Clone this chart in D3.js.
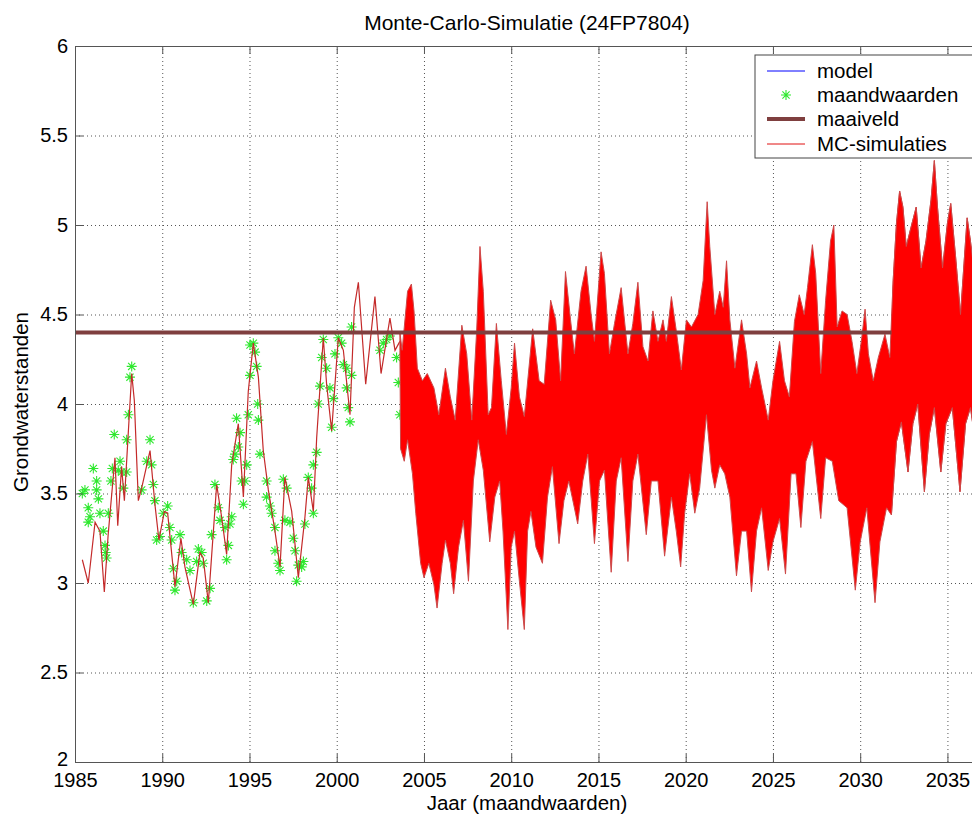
<!DOCTYPE html>
<html>
<head>
<meta charset="utf-8">
<script src="https://cdn.jsdelivr.net/npm/d3@7"></script>
<style>
  body { margin: 0; background: #fff; }
  svg { display: block; font-family: "Liberation Sans", Arial, sans-serif; }
</style>
</head>
<body>
<div class="chart"></div>
<script>
var width = 972, height = 814;
var plotLeft = 75, plotRight = 975, plotTop = 46, plotBottom = 762;

// ---- data ----
var xTicks = [1985, 1990, 1995, 2000, 2005, 2010, 2015, 2020, 2025, 2030, 2035];
var yTicks = [2, 2.5, 3, 3.5, 4, 4.5, 5, 5.5, 6];
var maaiveld = 4.4;

// maandwaarden (observed monthly values) [year, level]
var observed = [
  [1985.42,3.50],[1985.57,3.52],[1985.76,3.42],[1985.86,3.37],[1985.76,3.34],[1986.05,3.64],[1986.24,3.57],
  [1986.24,3.52],[1986.43,3.39],[1986.34,3.47],[1986.62,3.29],[1986.72,3.21],[1986.76,3.17],[1986.81,3.14],
  [1986.91,3.39],[1987.06,3.57],[1987.14,3.64],[1987.25,3.83],[1987.48,3.63],[1987.58,3.68],[1987.67,3.62],
  [1987.77,3.53],[1987.96,3.62],[1987.96,3.80],[1988.06,3.94],[1988.15,4.15],[1988.25,4.21],[1988.82,3.52],
  [1989.11,3.68],[1989.30,3.80],[1989.39,3.66],[1989.49,3.55],[1989.58,3.46],[1989.87,3.26],[1989.68,3.24],
  [1990.06,3.39],[1990.31,3.43],[1990.44,3.31],[1990.54,3.24],[1990.64,3.08],[1990.73,2.96],[1990.83,3.01],
  [1991.02,3.27],[1991.11,3.17],[1991.40,3.13],[1991.59,3.07],[1991.78,2.89],[1991.97,3.12],[1992.07,3.19],
  [1992.26,3.17],[1992.35,3.11],[1992.55,2.90],[1992.74,2.97],[1992.83,3.27],[1993.02,3.55],[1993.21,3.42],
  [1993.31,3.35],[1993.60,3.31],[1993.69,3.13],[1993.79,3.21],[1993.88,3.33],[1993.98,3.37],[1994.07,3.69],
  [1994.17,3.72],[1994.26,3.92],[1994.36,3.76],[1994.46,3.84],[1994.55,3.57],[1994.65,3.44],[1994.74,3.57],
  [1994.84,3.66],[1994.93,3.94],[1995.03,4.16],[1995.03,4.33],[1995.22,4.34],[1995.32,4.29],[1995.41,4.21],
  [1995.47,4.00],[1995.51,3.91],[1995.60,3.72],[1995.98,3.57],[1995.98,3.48],[1996.17,3.43],[1996.27,3.39],
  [1996.46,3.31],[1996.46,3.18],[1996.65,3.11],[1996.75,3.07],[1996.94,3.58],[1997.13,3.53],[1997.03,3.35],
  [1997.32,3.34],[1997.51,3.25],[1997.61,3.18],[1997.70,3.01],[1997.80,3.10],[1997.99,3.09],[1998.09,3.12],
  [1998.18,3.33],[1998.37,3.59],[1998.56,3.53],[1998.66,3.39],[1998.66,3.66],[1998.85,3.73],[1998.94,4.00],
  [1999.04,4.10],[1999.14,4.26],[1999.23,4.36],[1999.42,4.20],[1999.61,4.09],[1999.71,3.87],[1999.80,4.03],
  [1999.90,4.28],[2000.09,4.37],[2000.28,4.34],[2000.38,4.22],[2000.57,4.20],[2000.57,4.09],[2000.66,3.98],
  [2000.76,3.90],[2000.85,4.16],[2000.85,4.43],[2002.48,4.30],[2002.67,4.34],[2002.86,4.36],[2003.05,4.38],
  [2003.43,4.26],[2003.53,4.12],[2003.62,3.94]
];

// simulated levels over the measured period (all runs coincide)
var simHistory = [
  [1985.42,3.13],[1985.76,3.00],[1986.15,3.34],[1986.43,3.29],[1986.68,2.95],[1986.90,3.27],[1987.29,3.70],
  [1987.45,3.32],[1987.67,3.65],[1987.83,3.46],[1988.06,3.85],[1988.25,4.17],[1988.40,4.02],[1988.63,3.46],
  [1988.82,3.53],[1989.30,3.74],[1989.58,3.44],[1989.81,3.24],[1990.12,3.40],[1990.31,3.39],[1990.73,2.98],
  [1991.07,3.25],[1991.30,3.09],[1991.78,2.88],[1992.16,3.17],[1992.35,3.14],[1992.64,2.89],[1993.12,3.55],
  [1993.40,3.37],[1993.69,3.16],[1993.98,3.66],[1994.36,3.89],[1994.65,3.48],[1994.93,4.07],[1995.22,4.34],
  [1995.51,4.15],[1995.79,3.74],[1996.08,3.52],[1996.46,3.29],[1996.75,3.09],[1997.03,3.59],[1997.42,3.40],
  [1997.80,3.03],[1998.18,3.37],[1998.37,3.59],[1998.66,3.40],[1998.85,3.81],[1999.23,4.37],[1999.42,4.11],
  [1999.71,3.85],[2000.09,4.37],[2000.38,4.30],[2000.76,3.94],[2001.01,4.54],[2001.24,4.68],[2001.66,4.11],
  [2002.19,4.60],[2002.54,4.17],[2003.05,4.48],[2003.34,4.30],[2003.62,4.35]
];

// upper and lower edge of the bundle of MC-simulaties
var mcUpper = [
  [2003.62,4.40],[2003.75,4.30],[2004.06,4.63],[2004.28,4.67],[2004.43,4.52],[2004.62,4.20],[2004.91,4.13],
  [2005.19,4.17],[2005.57,4.09],[2005.85,3.94],[2006.23,4.20],[2006.51,4.04],[2006.79,3.91],[2007.17,4.44],
  [2007.45,4.28],[2007.74,3.91],[2008.02,4.41],[2008.21,4.88],[2008.40,4.63],[2008.68,3.94],[2008.87,3.98],
  [2009.15,4.45],[2009.43,4.13],[2009.72,3.83],[2010.00,4.09],[2010.19,4.34],[2010.47,4.04],[2010.75,3.93],
  [2011.23,4.42],[2011.60,4.13],[2011.89,4.11],[2012.26,4.58],[2012.55,4.47],[2012.83,4.13],[2013.11,4.74],
  [2013.40,4.47],[2013.62,4.28],[2014.00,4.63],[2014.29,4.77],[2014.58,4.50],[2014.77,4.35],[2015.15,4.85],
  [2015.34,4.73],[2015.63,4.28],[2015.92,4.45],[2016.30,4.65],[2016.69,4.28],[2016.97,4.45],[2017.26,4.68],
  [2017.55,4.32],[2017.84,4.24],[2018.12,4.52],[2018.41,4.35],[2018.70,4.47],[2018.89,4.35],[2019.18,4.60],
  [2019.46,4.41],[2019.75,4.19],[2020.04,4.47],[2020.33,4.43],[2020.71,4.50],[2021.00,4.69],[2021.23,5.13],
  [2021.38,4.88],[2021.67,4.50],[2021.95,4.63],[2022.15,4.54],[2022.34,4.80],[2022.53,4.47],[2022.82,4.20],
  [2023.20,4.47],[2023.49,4.28],[2023.68,4.09],[2024.06,4.24],[2024.35,4.09],[2024.73,3.91],[2025.00,4.13],
  [2025.38,4.35],[2025.66,4.13],[2025.94,4.04],[2026.23,4.46],[2026.51,4.61],[2026.79,4.50],[2026.98,4.65],
  [2027.26,4.89],[2027.45,4.73],[2027.74,4.17],[2028.02,4.58],[2028.30,4.91],[2028.49,5.00],[2028.68,4.43],
  [2028.96,4.52],[2029.25,4.50],[2029.53,4.35],[2029.81,4.17],[2030.09,4.37],[2030.28,4.53],[2030.47,4.28],
  [2030.75,4.13],[2031.04,4.26],[2031.42,4.39],[2031.70,4.26],[2031.89,4.69],[2032.08,5.01],[2032.26,5.19],
  [2032.45,5.10],[2032.64,4.88],[2032.92,4.99],[2033.21,5.10],[2033.49,4.76],[2033.77,4.91],[2034.06,5.14],
  [2034.25,5.36],[2034.43,5.10],[2034.72,4.76],[2035.00,5.01],[2035.19,5.12],[2035.47,4.82],[2035.75,4.50],
  [2036.13,5.04],[2036.32,4.91],[2036.58,4.70]
];
var mcLower = [
  [2003.62,4.30],[2003.66,3.75],[2003.87,3.68],[2004.06,3.80],[2004.34,3.61],[2004.53,3.39],[2004.81,3.11],
  [2005.00,3.03],[2005.28,3.11],[2005.57,2.99],[2005.75,2.86],[2006.04,3.11],[2006.23,3.24],[2006.51,3.11],
  [2006.70,2.94],[2006.98,3.20],[2007.26,3.35],[2007.55,3.01],[2007.83,3.57],[2008.11,3.80],[2008.40,3.63],
  [2008.77,3.23],[2009.06,3.48],[2009.34,3.57],[2009.53,3.29],[2009.81,2.74],[2010.00,3.20],[2010.19,3.29],
  [2010.47,3.01],[2010.75,2.74],[2010.94,3.29],[2011.13,3.40],[2011.42,3.20],[2011.79,3.11],[2012.08,3.48],
  [2012.36,3.65],[2012.74,3.22],[2013.02,3.46],[2013.30,3.57],[2013.62,3.42],[2013.81,3.33],[2014.10,3.57],
  [2014.39,3.72],[2014.77,3.22],[2015.06,3.57],[2015.34,3.63],[2015.73,3.06],[2016.02,3.57],[2016.30,3.70],
  [2016.69,3.12],[2016.97,3.57],[2017.26,3.72],[2017.74,3.27],[2018.03,3.57],[2018.41,3.57],[2018.79,3.15],
  [2019.18,3.48],[2019.46,3.29],[2019.71,3.09],[2019.94,3.39],[2020.23,3.61],[2020.52,3.39],[2020.80,3.53],
  [2021.19,3.94],[2021.48,3.63],[2021.67,3.53],[2021.95,3.66],[2022.24,3.61],[2022.53,3.48],[2022.91,3.04],
  [2023.20,3.29],[2023.49,3.29],[2023.77,2.95],[2024.06,3.29],[2024.35,3.42],[2024.73,3.07],[2025.00,3.23],
  [2025.38,3.36],[2025.72,3.05],[2026.04,3.61],[2026.32,3.61],[2026.60,3.31],[2026.89,3.68],[2027.26,3.79],
  [2027.74,3.36],[2028.02,3.70],[2028.40,3.68],[2028.77,3.46],[2029.25,3.42],[2029.72,2.96],[2030.00,3.23],
  [2030.38,3.42],[2030.85,2.89],[2031.13,3.23],[2031.51,3.42],[2031.79,3.38],[2032.08,3.79],[2032.36,3.90],
  [2032.74,3.62],[2033.02,3.89],[2033.30,4.00],[2033.68,3.51],[2033.96,3.83],[2034.25,3.98],[2034.62,3.62],
  [2034.91,3.89],[2035.28,3.98],[2035.72,3.51],[2036.04,3.89],[2036.32,3.98],[2036.58,3.80]
];
var legendItems = ["model", "maandwaarden", "maaiveld", "MC-simulaties"];

// ---- scales ----
var x = d3.scaleLinear().domain([1985, 2036.58]).range([plotLeft, plotRight]);
var y = d3.scaleLinear().domain([2, 6]).range([plotBottom, plotTop]);

var svg = d3.select('.chart')
    .append('svg')
    .attr('width', width)
    .attr('height', height);

var defs = svg.append('defs');
defs.append('clipPath').attr('id', 'plot')
    .append('rect')
    .attr('x', plotLeft).attr('y', plotTop)
    .attr('width', plotRight - plotLeft).attr('height', plotBottom - plotTop);
defs.append('clipPath').attr('id', 'late')
    .append('rect')
    .attr('x', x(2031.8)).attr('y', plotTop)
    .attr('width', plotRight - x(2031.8)).attr('height', plotBottom - plotTop);

// grid (dotted)
svg.append('g')
    .attr('transform', `translate(0,${plotBottom})`)
    .call(d3.axisBottom(x).tickValues(xTicks.slice(1)).tickSize(-(plotBottom - plotTop)).tickFormat(''))
    .call(g => g.select('.domain').remove())
    .selectAll('line').attr('stroke', '#555').attr('stroke-dasharray', '1,3');
svg.append('g')
    .attr('transform', `translate(${plotLeft},0)`)
    .call(d3.axisLeft(y).tickValues(yTicks.slice(1, -1)).tickSize(-(plotRight - plotLeft)).tickFormat(''))
    .call(g => g.select('.domain').remove())
    .selectAll('line').attr('stroke', '#555').attr('stroke-dasharray', '1,3');

var plot = svg.append('g').attr('clip-path', 'url(#plot)');

// maandwaarden stars
var r = 5, k = 3.6;
function star(cx, cy) {
    return `M${cx - r},${cy}h${2 * r}M${cx},${cy - r}v${2 * r}` +
        `M${cx - k},${cy - k}l${2 * k},${2 * k}M${cx - k},${cy + k}l${2 * k},${-2 * k}`;
}
plot.append('g').selectAll('path')
    .data(observed)
    .enter()
    .append('path')
    .attr('d', d => star(x(d[0]), y(d[1])))
    .attr('stroke', '#2ee82e')
    .attr('stroke-width', 1.1)
    .attr('fill', 'none');

var line = d3.line().x(d => x(d[0])).y(d => y(d[1]));

plot.append('path')
    .attr('d', line(simHistory))
    .attr('fill', 'none')
    .attr('stroke', '#c42a2a')
    .attr('stroke-width', 1.2);

// bundle of simulations: upper edge forward, lower edge back
var band = mcUpper.concat(mcLower.slice().reverse());
function drawBand(g) {
    g.append('path')
        .attr('d', line(band) + 'Z')
        .attr('fill', '#ff0000')
        .attr('stroke', '#cc4a4a')
        .attr('stroke-width', 1)
        .attr('stroke-linejoin', 'round');
}
drawBand(plot);

plot.append('line')
    .attr('x1', x(1985)).attr('x2', x(2036.58))
    .attr('y1', y(maaiveld)).attr('y2', y(maaiveld))
    .attr('stroke', '#7f3f3f')
    .attr('stroke-width', 4);

drawBand(plot.append('g').attr('clip-path', 'url(#late)'));

// axes box with inward ticks
function styleAxis(g) {
    g.select('.domain').attr('stroke', '#555');
    g.selectAll('line').attr('stroke', '#555');
    g.selectAll('text').attr('font-size', 20).attr('fill', '#000')
        .attr('font-family', '"Liberation Sans", Arial, sans-serif');
}
svg.append('g')
    .attr('transform', `translate(0,${plotBottom})`)
    .call(d3.axisBottom(x).tickValues(xTicks).tickSize(-8).tickPadding(11)
        .tickFormat(d3.format('d')))
    .call(styleAxis);
svg.append('g')
    .attr('transform', `translate(0,${plotTop})`)
    .call(d3.axisTop(x).tickValues(xTicks).tickSize(-8).tickFormat(''))
    .call(styleAxis);
svg.append('g')
    .attr('transform', `translate(${plotLeft},0)`)
    .call(d3.axisLeft(y).tickValues(yTicks).tickSize(-8).tickPadding(7)
        .tickFormat(d => d3.format('~g')(d)))
    .call(styleAxis)
    .call(g => g.selectAll('text').filter(d => d === 2).attr('dy', '0.15em'));

// titles
svg.append('text')
    .attr('x', 527).attr('y', 30)
    .attr('text-anchor', 'middle')
    .attr('font-size', 21)
    .text('Monte-Carlo-Simulatie (24FP7804)');
svg.append('text')
    .attr('x', 527).attr('y', 810)
    .attr('text-anchor', 'middle')
    .attr('font-size', 20.5)
    .text('Jaar (maandwaarden)');
svg.append('text')
    .attr('transform', 'translate(28,402) rotate(-90)')
    .attr('text-anchor', 'middle')
    .attr('font-size', 20.5)
    .text('Grondwaterstanden');

// legend
var legend = svg.append('g');
legend.append('rect')
    .attr('x', 755).attr('y', 55)
    .attr('width', 220).attr('height', 103)
    .attr('fill', '#fff')
    .attr('stroke', '#444');
var rowY = [71, 95, 119, 144];
legend.selectAll('text')
    .data(legendItems)
    .enter()
    .append('text')
    .attr('x', 817)
    .attr('y', (d, i) => rowY[i])
    .attr('dy', '0.35em')
    .attr('font-size', 20.5)
    .text(d => d);
legend.append('line').attr('x1', 767).attr('x2', 805).attr('y1', rowY[0]).attr('y2', rowY[0])
    .attr('stroke', '#0000ff').attr('stroke-width', 1);
legend.append('path').attr('d', star(786, rowY[1]))
    .attr('stroke', '#2ee82e').attr('stroke-width', 1.1).attr('fill', 'none');
legend.append('line').attr('x1', 767).attr('x2', 805).attr('y1', rowY[2]).attr('y2', rowY[2])
    .attr('stroke', '#7f3f3f').attr('stroke-width', 4);
legend.append('line').attr('x1', 767).attr('x2', 805).attr('y1', rowY[3]).attr('y2', rowY[3])
    .attr('stroke', '#e01010').attr('stroke-width', 1);
</script>
</body>
</html>
